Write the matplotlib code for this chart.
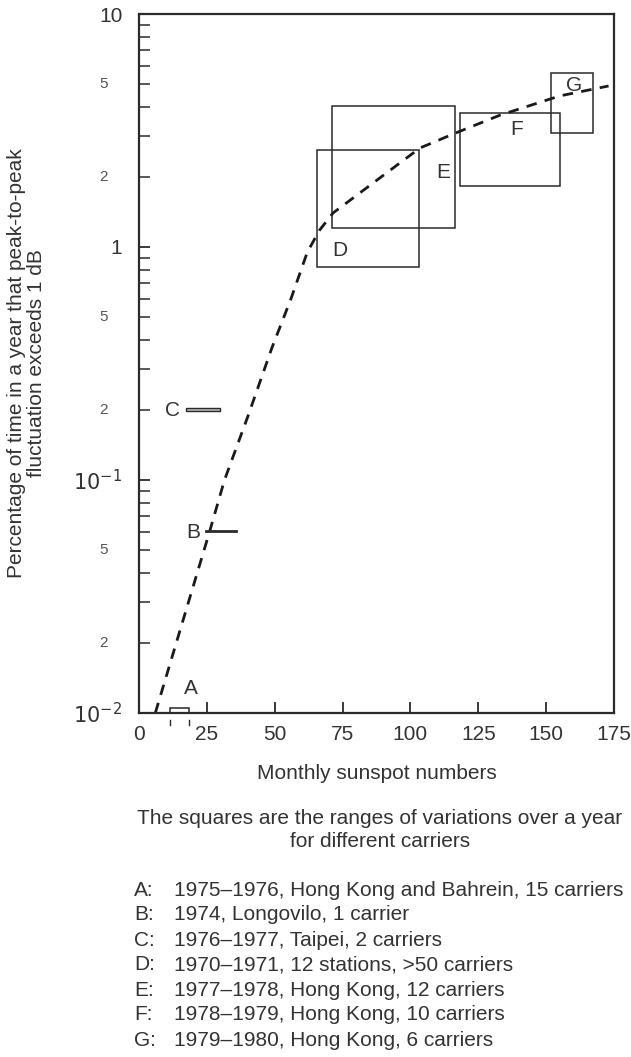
import matplotlib
matplotlib.use('Agg')
import matplotlib.pyplot as plt
from matplotlib.patches import Rectangle
from matplotlib.ticker import FixedLocator, NullFormatter

plt.rcParams['font.family'] = ['Liberation Sans', 'DejaVu Sans']

# dashed trend curve (sunspot number, % of time)
curve_x = [6, 16, 26, 31.5, 40, 49, 56, 62, 66.5, 71.5, 80, 90, 103.5, 116.5, 133, 155, 173]
curve_y = [0.01, 0.0245, 0.06, 0.1, 0.186, 0.37, 0.60, 0.95, 1.18, 1.40, 1.66, 2.03, 2.66, 3.08, 3.68, 4.45, 4.91]

# yearly ranges per carrier group: (x0, x1, y0, y1)
box_names = ['D', 'E', 'F', 'G']
box_x0 = [65.6, 71.1, 118.3, 151.8]
box_x1 = [103.2, 116.5, 155.1, 167.3]
box_y0 = [0.82, 1.21, 1.83, 3.08]
box_y1 = [2.61, 4.03, 3.77, 5.6]
box_label_x = [71.2, 109.5, 136.6, 157.3]
box_label_y = [0.97, 2.08, 3.18, 4.91]

a_range = (11.4, 18.4, 0.0095, 0.0105)
b_range = (24.5, 35.6, 0.0605)
c_range = (17.3, 29.8, 0.197, 0.203)

legend_keys = ['A', 'B', 'C', 'D', 'E', 'F', 'G']
legend_text = [
    '1975–1976, Hong Kong and Bahrein, 15 carriers',
    '1974, Longovilo, 1 carrier',
    '1976–1977, Taipei, 2 carriers',
    '1970–1971, 12 stations, >50 carriers',
    '1977–1978, Hong Kong, 12 carriers',
    '1978–1979, Hong Kong, 10 carriers',
    '1979–1980, Hong Kong, 6 carriers',
]

x_ticks = [0, 25, 50, 75, 100, 125, 150, 175]
y_major = [0.01, 0.1, 1, 10]
y_major_labels = ['$10^{-2}$', '$10^{-1}$', '1', '10']
y_minor_labelled = [0.02, 0.05, 0.2, 0.5, 2, 5]
y_minor_text = ['2', '5', '2', '5', '2', '5']

ink = '#2a2a2a'
txt = '#333333'
fs = 15

fig = plt.figure(figsize=(6.31, 10.57), dpi=100)
ax = fig.add_axes([139 / 631, 344 / 1057, 475 / 631, 699 / 1057])
ax.set_yscale('log')
ax.set_xlim(0, 175)
ax.set_ylim(0.01, 10)

for s in ax.spines.values():
    s.set_color(ink)
    s.set_linewidth(1.6)

ax.plot(curve_x, curve_y, color='#1a1a1a', lw=2.0, dashes=(3.8, 3.0), clip_on=False)

for n, x0, x1, y0, y1, lx, ly in zip(box_names, box_x0, box_x1, box_y0, box_y1,
                                      box_label_x, box_label_y):
    ax.add_patch(Rectangle((x0, y0), x1 - x0, y1 - y0, fill=False, ec=ink, lw=1.1))
    ax.text(lx, ly, n, fontsize=fs, color=txt, ha='left', va='center')

# A: tiny box on the axis, with stubs below
ax.add_patch(Rectangle((a_range[0], 0.01), a_range[1] - a_range[0], a_range[3] - 0.01,
                       fill=False, ec=ink, lw=1.1, clip_on=False))
for xa in a_range[:2]:
    ax.plot([xa, xa], [0.0093, 0.0089], color=ink, lw=1.0, clip_on=False)
ax.text(19.2, 0.0128, 'A', fontsize=fs, color=txt, ha='center', va='center')

# B: single line
ax.plot([b_range[0], b_range[1]], [b_range[2], b_range[2]], color=ink, lw=2.0)
ax.text(20, 0.0593, 'B', fontsize=fs, color=txt, ha='center', va='center')

# C: thin double bar
ax.add_patch(Rectangle((c_range[0], c_range[2]), c_range[1] - c_range[0],
                       c_range[3] - c_range[2], fill=True, fc='#bbbbbb', ec=ink, lw=1.0))
ax.text(12.5, 0.198, 'C', fontsize=fs, color=txt, ha='center', va='center')

ax.xaxis.set_major_locator(FixedLocator(x_ticks))
ax.set_xticklabels([str(t) for t in x_ticks])
ax.tick_params(axis='x', direction='in', length=8, width=1.3, color=ink,
               labelsize=fs, labelcolor=txt, pad=9)
ax.yaxis.set_major_locator(FixedLocator(y_major))
ax.set_yticklabels(y_major_labels)
minor = [k * 10.0 ** e for e in (-2, -1, 0) for k in range(2, 10)]
ax.yaxis.set_minor_locator(FixedLocator(minor))
ax.yaxis.set_minor_formatter(NullFormatter())
ax.tick_params(axis='y', which='major', direction='in', length=8, width=1.3, color=ink,
               labelsize=fs, labelcolor=txt, pad=12)
ax.tick_params(axis='y', which='minor', direction='in', length=8, width=1.1, color=ink)
for v, t in zip(y_minor_labelled, y_minor_text):
    ax.text(-0.075, v, t, transform=ax.get_yaxis_transform(), fontsize=11,
            color='#555555', ha='center', va='center')

ax.set_xlabel('Monthly sunspot numbers', fontsize=fs, color=txt, labelpad=14)
ax.set_ylabel('Percentage of time in a year that peak-to-peak\nfluctuation exceeds 1 dB',
              fontsize=fs, color=txt, labelpad=20, linespacing=1.05)

fig.text(380 / 631, 1 - 830 / 1057,
         'The squares are the ranges of variations over a year\nfor different carriers',
         fontsize=fs, color=txt, ha='center', va='center', linespacing=1.25)

for i, (k, t) in enumerate(zip(legend_keys, legend_text)):
    y = 1 - (890 + 25 * i) / 1057
    fig.text(134 / 631, y, k + ':', fontsize=fs, color=txt, ha='left', va='center')
    fig.text(174 / 631, y, t, fontsize=fs, color=txt, ha='left', va='center')

fig.savefig('out.png', dpi=100)
